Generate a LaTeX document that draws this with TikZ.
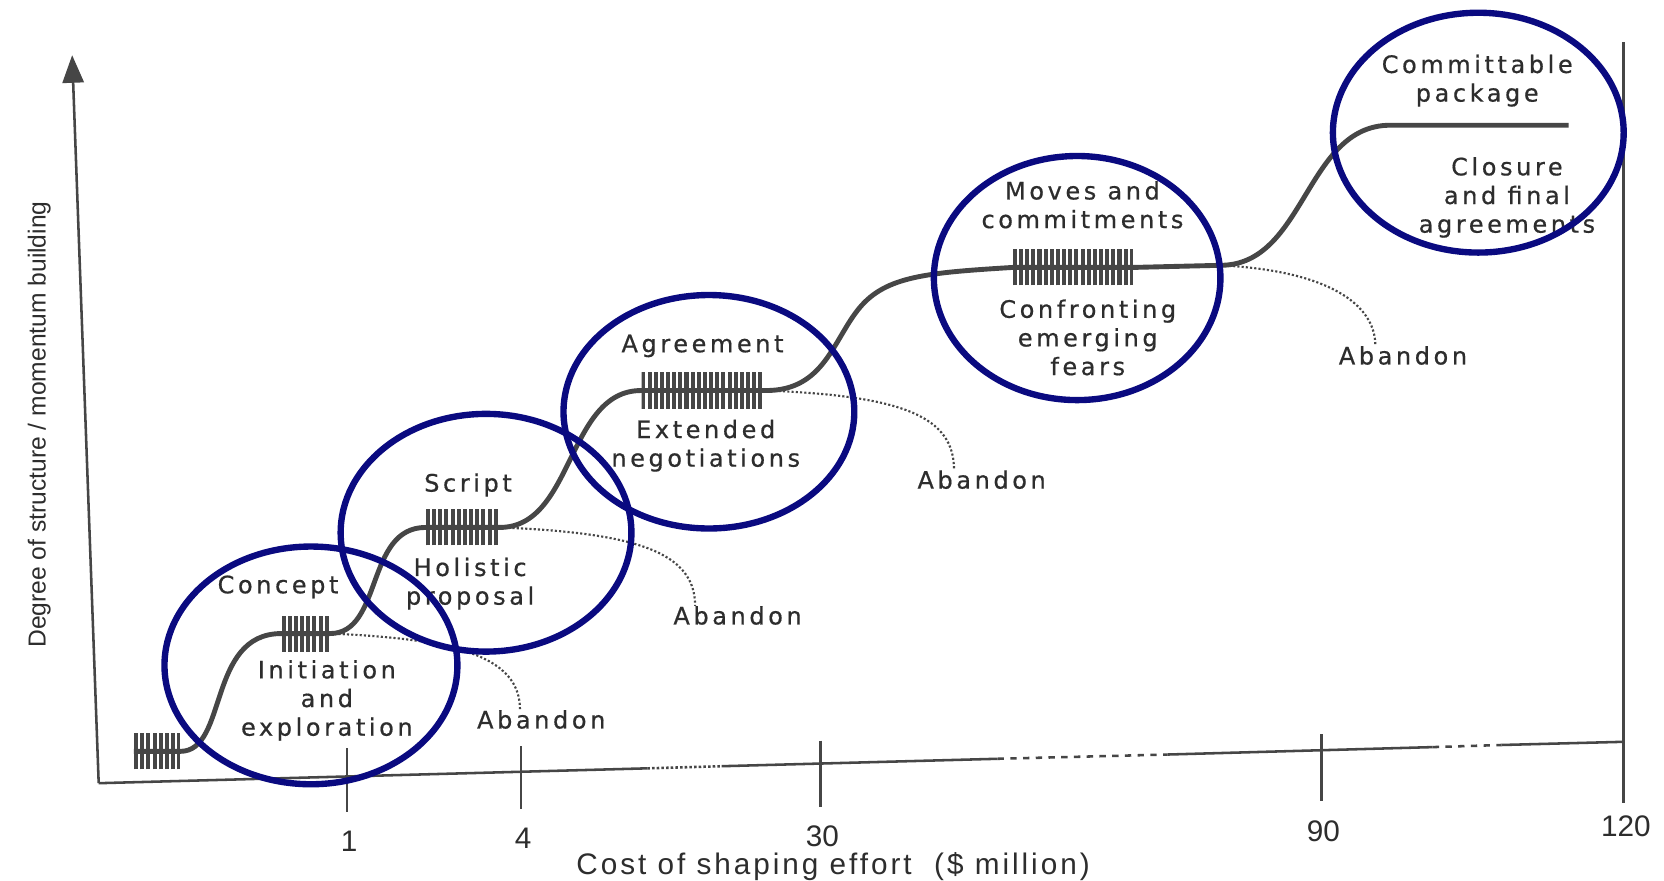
\documentclass[tikz,border=0pt]{standalone}
\usepackage{fontspec}
\setmainfont{DejaVu Sans}[LetterSpace=15,FakeBold=0.6]
\newfontfamily\axisfont{Liberation Sans}
\newfontfamily\captionfont{Liberation Sans}[LetterSpace=10]
\usetikzlibrary{arrows.meta}
\definecolor{ringblue}{RGB}{10,10,128}
\definecolor{inkgray}{RGB}{70,70,70}
\definecolor{textgray}{RGB}{45,45,45}
\begin{document}
\begin{tikzpicture}[x=0.5pt,y=-0.5pt,
    stage/.style={text=textgray,font=\fontsize{11.3}{13.5}\selectfont,align=center,inner sep=0pt},
    ticklabel/.style={text=textgray,font=\axisfont\fontsize{14}{16}\selectfont,inner sep=0pt},
    curve/.style={inkgray,line width=2.3pt},
    abandon/.style={inkgray,densely dotted,line width=1pt},
    ring/.style={ringblue,line width=3pt},
    axis/.style={inkgray,line width=1.2pt},
    coil/.style={minimum width=#1*0.5pt,minimum height=17pt,inner sep=0pt,
        path picture={\foreach \k in {1.8,7.6,...,#1}
            \draw[inkgray,line width=1.9pt] ([xshift=\k*0.5pt]path picture bounding box.south west) -- ++(0,17pt);}}]
    \fill[white] (0,0) rectangle (1568,830);
    \useasboundingbox (0,0) rectangle (1568,830);
    % axes
    \coordinate (o) at (93,738);
    \coordinate (ytop) at (68,52);
    \coordinate (xend) at (1530,699);
    \draw[axis,-{Triangle[width=10pt,length=13pt]}] (o) -- (ytop);
    \draw[axis] (o) -- (610,724) (680,722) -- (940,715) (1100,711) -- (1350,704) (1415,702) -- (xend);
    \draw[axis,densely dotted] (610,724) -- (680,722);
    \draw[axis,dashed] (940,715) -- (1100,711) (1350,704) -- (1415,702);
    \draw[axis] (1530,40) -- (1530,757);
    \foreach \x/\ya/\yb/\n in {327/705/765/1,491/703/762/4,773/698/760/30,1245/692/755/90}{
        \draw[axis] (\x,\ya) -- (\x,\yb);
        \node[ticklabel] at (\x+2,\yb+28) {\n};
    }
    \node[ticklabel] (t120) at (1532,779) {120};
    \node[ticklabel,font=\captionfont\fontsize{14}{16}\selectfont] (xlabel) at (785,817) {Cost of shaping effort\ \ (\$ million)};
    \node[ticklabel,font=\axisfont\fontsize{11.6}{13}\selectfont,rotate=90] (ylabel) at (37,400) {Degree of structure / momentum building};
    % stages
    \node[coil=43] (b1) at (148,708) {};
    \node[coil=45] (b2) at (288,597) {};
    \node[coil=69] (b3) at (436,497) {};
    \node[coil=117] (b4) at (663,368) {};
    \node[coil=113] (b5) at (1011,252) {};
    \coordinate (bend) at (810,290);
    \coordinate (fork) at (1150,250);
    \coordinate (top) at (1478,118);
    \draw[curve] (b1.west) -- (b1.east) .. controls +(45,0) and +(-70,0) .. (b2.west) -- (b2.east)
        .. controls +(50,0) and +(-57,0) .. (b3.west) -- (b3.east)
        .. controls +(70,0) and +(-70,0) .. (b4.west) -- (b4.east)
        .. controls +(55,0) and +(-25,30) .. (bend) .. controls +(25,-30) and +(-80,5) .. (b5.west) -- (b5.east)
        -- (fork) .. controls +(80,0) and +(-80,0) .. (1310,118) -- (top);
    \node[stage] (concept) at (262,553) {Concept};
    \node[stage] (init) at (308,660) {Initiation\\and\\exploration};
    \node[stage] (script) at (441,457) {Script};
    \node[stage] (holistic) at (443,550) {Holistic\\proposal};
    \node[stage] (agree) at (662,326) {Agreement};
    \node[stage] (extended) at (665,420) {Extended\\negotiations};
    \node[stage] (moves) at (1020,193) {Moves and\\commitments};
    \node[stage] (fears) at (1025,318) {Confronting\\emerging\\fears};
    \node[stage] (package) at (1392,76) {Committable\\package};
    \node[stage] (closure) at (1420,186) {Closure\\and final\\agreements};
    \node[stage] (ab1) at (510,678) {Abandon};
    \node[stage] (ab2) at (695,580) {Abandon};
    \node[stage] (ab3) at (925,452) {Abandon};
    \node[stage] (ab4) at (1322,335) {Abandon};
    \draw[abandon] (b2.east) .. controls +(120,5) and +(0,-50) .. ([xshift=-10pt]ab1.north);
    \draw[abandon] (b3.east) .. controls +(130,5) and +(0,-50) .. ([xshift=-20pt]ab2.north);
    \draw[abandon] (b4.east) .. controls +(130,5) and +(0,-50) .. ([xshift=-13pt]ab3.north);
    \draw[abandon] (fork) .. controls +(100,5) and +(0,-40) .. ([xshift=-13pt]ab4.north);
    % circles
    \draw[ring] (293,627) ellipse [x radius=138,y radius=112];
    \draw[ring] (458,502) ellipse [x radius=137,y radius=112];
    \draw[ring] (668,388) ellipse [x radius=137,y radius=110];
    \draw[ring] (1015,262) ellipse [x radius=135,y radius=115];
    \draw[ring] (1393,125) ellipse [x radius=137,y radius=113];
\end{tikzpicture}
\end{document}
